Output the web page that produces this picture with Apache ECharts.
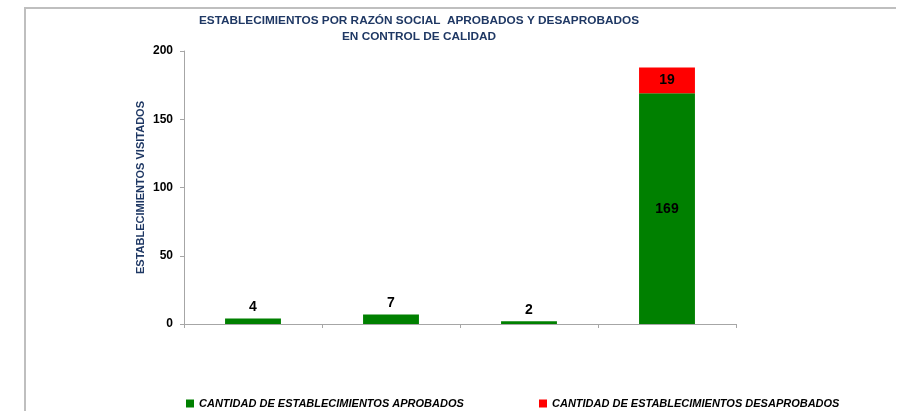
<!DOCTYPE html>
<html>
<head>
<meta charset="utf-8">
<script src="https://cdn.jsdelivr.net/npm/echarts@6/dist/echarts.min.js"></script>
<style>
html,body{margin:0;padding:0;background:#fff;}
#chart{width:897px;height:412px;}
</style>
</head>
<body>
<div id="chart"></div>
<script>
var categories = ['', '', '', ''];
var aprobados = [4, 7, 2, 169];
var desaprobados = [null, null, null, 19];
var yTicks = [0, 50, 100, 150, 200];
var titleText = 'ESTABLECIMIENTOS POR RAZÓN SOCIAL  APROBADOS Y DESAPROBADOS\nEN CONTROL DE CALIDAD';
var yAxisName = 'ESTABLECIMIENTOS VISITADOS';
var seriesNames = ['CANTIDAD DE ESTABLECIMIENTOS APROBADOS', 'CANTIDAD DE ESTABLECIMIENTOS DESAPROBADOS'];

var FONT = '"Liberation Sans", Arial, sans-serif';
var chart = echarts.init(document.getElementById('chart'));

var aprobData = aprobados.map(function (v, i) {
  var stacked = desaprobados[i] != null;
  return { value: v, label: { position: stacked ? 'inside' : 'top' } };
});

var legendText = { fontFamily: FONT, fontSize: 11, fontStyle: 'italic', fontWeight: 'bold', color: '#000' };

chart.setOption({
  animation: false,
  backgroundColor: '#fff',
  textStyle: { fontFamily: FONT },
  title: {
    text: titleText,
    left: 414,
    textAlign: 'center',
    top: 8,
    textStyle: { fontFamily: FONT, fontSize: 11.8, fontWeight: 'bold', color: '#1F3864', lineHeight: 16 }
  },
  graphic: [{
    type: 'polyline',
    shape: { points: [[25, 411], [25, 8], [896, 8]] },
    style: { stroke: '#BFBFBF', lineWidth: 2, fill: null },
    silent: true
  }],
  legend: [{
    top: 398,
    left: 186,
    padding: 0,
    itemWidth: 8,
    itemHeight: 8,
    icon: 'rect',
    textStyle: legendText,
    data: [seriesNames[0]]
  }, {
    top: 398,
    left: 539,
    padding: 0,
    itemWidth: 8,
    itemHeight: 8,
    icon: 'rect',
    textStyle: legendText,
    data: [seriesNames[1]]
  }],
  grid: { left: 184, right: 161, top: 51, bottom: 88, containLabel: false },
  xAxis: {
    type: 'category',
    data: categories,
    axisLine: { lineStyle: { color: '#A6A6A6', width: 1 } },
    axisTick: { show: true, alignWithLabel: false, length: 4, lineStyle: { color: '#A6A6A6' } },
    axisLabel: { show: false }
  },
  yAxis: {
    type: 'value',
    min: yTicks[0],
    max: yTicks[yTicks.length - 1],
    interval: yTicks[1] - yTicks[0],
    name: yAxisName,
    nameLocation: 'middle',
    nameMoveOverlap: false,
    nameGap: 38,
    nameTextStyle: { fontFamily: FONT, fontSize: 11, fontWeight: 'bold', color: '#1F3864' },
    axisLine: { show: true, lineStyle: { color: '#A6A6A6', width: 1 } },
    axisTick: { show: true, length: 4, lineStyle: { color: '#A6A6A6' } },
    splitLine: { show: false },
    axisLabel: { fontFamily: FONT, fontSize: 12, fontWeight: 'bold', color: '#000', margin: 11 }
  },
  series: [{
    name: seriesNames[0],
    type: 'bar',
    stack: 'total',
    barWidth: '40.5%',
    data: aprobData,
    itemStyle: { color: '#008000' },
    label: { show: true, fontFamily: FONT, fontSize: 14, fontWeight: 'bold', color: '#000', distance: 4 }
  }, {
    name: seriesNames[1],
    type: 'bar',
    stack: 'total',
    barWidth: '40.5%',
    data: desaprobados,
    itemStyle: { color: '#FF0000' },
    label: { show: true, position: 'inside', fontFamily: FONT, fontSize: 14, fontWeight: 'bold', color: '#000' }
  }]
});
</script>
</body>
</html>
